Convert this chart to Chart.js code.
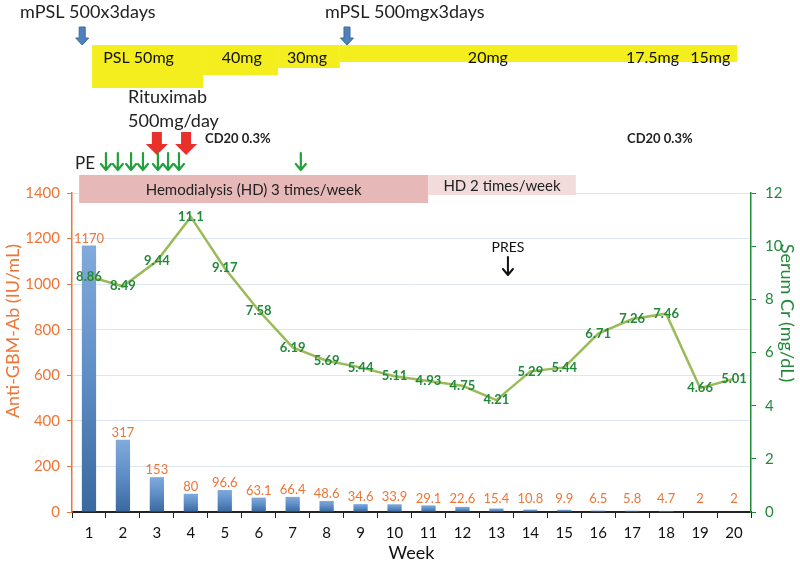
<!DOCTYPE html>
<html>
<head>
<meta charset="utf-8">
<script src="https://cdn.jsdelivr.net/npm/chart.js@4.4.0/dist/chart.umd.min.js"></script>
<style>
  html, body { margin: 0; padding: 0; background: #fff; }
</style>
</head>
<body>
<canvas id="chart" width="800" height="565"></canvas>
<script>
// chart data
const weeks = ['1','2','3','4','5','6','7','8','9','10','11','12','13','14','15','16','17','18','19','20'];
const antiGbm = [1170, 317, 153, 80, 96.6, 63.1, 66.4, 48.6, 34.6, 33.9, 29.1, 22.6, 15.4, 10.8, 9.9, 6.5, 5.8, 4.7, 2, 2];
const serumCr = [8.86, 8.49, 9.44, 11.1, 9.17, 7.58, 6.19, 5.69, 5.44, 5.11, 4.93, 4.75, 4.21, 5.29, 5.44, 6.71, 7.26, 7.46, 4.66, 5.01];
const antiGbmTicks = [0, 200, 400, 600, 800, 1000, 1200, 1400];
const crTicks = [0, 2, 4, 6, 8, 10, 12];

// treatment timeline (positions in week index, 0 = week 1)
const pslSteps = [
  { label: 'PSL 50mg', from: 0.09, to: 3.36, depth: 43, textAt: 1.46 },
  { label: '40mg', from: 3.36, to: 5.57, depth: 30, textAt: 4.5 },
  { label: '30mg', from: 5.57, to: 7.39, depth: 23, textAt: 6.42 },
  { label: '20mg', from: 7.39, to: 19.09, depth: 17, textAt: 11.75 }
];
const pslExtraLabels = [{ label: '17.5mg', at: 16.6 }, { label: '15mg', at: 18.3 }];
const mpslLabels = [{ label: 'mPSL 500x3days', at: -2.03 }, { label: 'mPSL 500mgx3days', at: 6.95 }];
const mpslArrows = [-0.2, 7.6];
const rituxArrows = [2.0, 2.86];
const cd20Labels = [3.42, 15.85];
const peArrows = [0.5, 0.85, 1.24, 1.59, 2.03, 2.33, 2.65, 6.24];
const hdBands = [
  { label: 'Hemodialysis (HD) 3 times/week', from: -0.29, to: 9.99, depth: 28, color: '#E6B9B8' },
  { label: 'HD 2 times/week', from: 9.99, to: 14.34, depth: 20, color: '#F2DCDB' }
];
const presAt = 12.34;

const FONT = 'Lato, "Open Sans", sans-serif';
const ORANGE = '#EE7536';
const GREEN = '#23893A';
const LINE = '#9BBB59';

function blockArrow(ctx, cx, top, bottom, shaftW, headW, headH, fill, stroke) {
  ctx.beginPath();
  ctx.moveTo(cx - shaftW / 2, top);
  ctx.lineTo(cx + shaftW / 2, top);
  ctx.lineTo(cx + shaftW / 2, bottom - headH);
  ctx.lineTo(cx + headW / 2, bottom - headH);
  ctx.lineTo(cx, bottom);
  ctx.lineTo(cx - headW / 2, bottom - headH);
  ctx.lineTo(cx - shaftW / 2, bottom - headH);
  ctx.closePath();
  ctx.fillStyle = fill;
  ctx.fill();
  if (stroke) { ctx.strokeStyle = stroke; ctx.lineWidth = 1; ctx.stroke(); }
}

function thinArrow(ctx, cx, top, bottom, color, w) {
  ctx.strokeStyle = color;
  ctx.lineWidth = w;
  ctx.lineCap = 'round';
  ctx.lineJoin = 'round';
  ctx.beginPath();
  ctx.moveTo(cx, top);
  ctx.lineTo(cx, bottom);
  ctx.moveTo(cx - 5, bottom - 6);
  ctx.lineTo(cx, bottom);
  ctx.lineTo(cx + 5, bottom - 6);
  ctx.stroke();
}

const annotations = {
  id: 'annotations',
  afterDraw(chart) {
    const ctx = chart.ctx;
    const px = v => chart.scales.x.getPixelForValue(v);
    ctx.save();

    // mPSL pulses
    ctx.fillStyle = '#222';
    ctx.font = '18px ' + FONT;
    ctx.textAlign = 'left';
    ctx.textBaseline = 'middle';
    mpslLabels.forEach(m => ctx.fillText(m.label, px(m.at), 12));
    mpslArrows.forEach(a => blockArrow(ctx, px(a), 27, 45, 6, 13, 7, '#4F81BD', '#3A6A9E'));

    // PSL taper band
    ctx.fillStyle = '#F4EE1E';
    pslSteps.forEach(s => ctx.fillRect(px(s.from), 45, px(s.to) - px(s.from), s.depth));
    ctx.fillStyle = '#111';
    ctx.font = '16px ' + FONT;
    ctx.textAlign = 'center';
    pslSteps.forEach(s => ctx.fillText(s.label, px(s.textAt), 58));
    pslExtraLabels.forEach(s => ctx.fillText(s.label, px(s.at), 58));

    // rituximab
    ctx.textAlign = 'left';
    ctx.font = '18px ' + FONT;
    ctx.fillStyle = '#222';
    ctx.fillText('Rituximab', px(1.15), 97);
    ctx.fillText('500mg/day', px(1.15), 121);
    rituxArrows.forEach(a => blockArrow(ctx, px(a), 132, 155, 10, 22, 11, '#E8312A'));

    ctx.fillStyle = '#222';
    ctx.font = 'bold 13px ' + FONT;
    cd20Labels.forEach(a => ctx.fillText('CD20 0.3%', px(a), 139));

    // plasma exchange
    ctx.font = '17px ' + FONT;
    ctx.fillText('PE', px(-0.41), 164);
    peArrows.forEach(a => thinArrow(ctx, px(a), 153, 170, '#22A03C', 2.2));

    // hemodialysis bands
    ctx.textAlign = 'center';
    ctx.font = '15px ' + FONT;
    hdBands.forEach(b => {
      ctx.fillStyle = b.color;
      ctx.fillRect(px(b.from), 175, px(b.to) - px(b.from), b.depth);
      ctx.fillStyle = '#222';
      ctx.fillText(b.label, (px(b.from) + px(b.to)) / 2, 175 + b.depth / 2 + 1);
    });

    // PRES
    ctx.fillStyle = '#111';
    ctx.font = '14px ' + FONT;
    ctx.fillText('PRES', px(presAt), 247);
    thinArrow(ctx, px(presAt), 257, 275, '#111', 2);

    // axis titles
    ctx.fillStyle = ORANGE;
    ctx.font = '18px ' + FONT;
    ctx.save();
    ctx.translate(13, 331);
    ctx.rotate(-Math.PI / 2);
    ctx.fillText('Anti-GBM-Ab (IU/mL)', 0, 0);
    ctx.restore();
    ctx.fillStyle = GREEN;
    ctx.save();
    ctx.translate(787, 313);
    ctx.rotate(Math.PI / 2);
    ctx.fillText('Serum Cr (mg/dL)', 0, 0);
    ctx.restore();
    ctx.fillStyle = '#111';
    ctx.fillText('Week', (chart.chartArea.left + chart.chartArea.right) / 2, 553);

    ctx.restore();
  }
};

const valueLabels = {
  id: 'valueLabels',
  afterDatasetsDraw(chart) {
    const ctx = chart.ctx;
    const yScale = chart.scales.y;
    ctx.save();
    ctx.textAlign = 'center';
    ctx.textBaseline = 'middle';
    ctx.font = '13px ' + FONT;
    ctx.fillStyle = ORANGE;
    chart.getDatasetMeta(0).data.forEach((el, i) => {
      const top = Math.min(el.y, yScale.getPixelForValue(25));
      ctx.fillText(String(antiGbm[i]), el.x, top - 7);
    });
    ctx.font = 'bold 13px ' + FONT;
    ctx.fillStyle = GREEN;
    chart.getDatasetMeta(1).data.forEach((el, i) => {
      ctx.fillText(String(serumCr[i]), el.x, el.y);
    });
    ctx.restore();
  }
};

new Chart(document.getElementById('chart'), {
  data: {
    labels: weeks,
    datasets: [
      {
        type: 'bar',
        data: antiGbm,
        yAxisID: 'y',
        order: 2,
        barPercentage: 0.42,
        categoryPercentage: 1,
        backgroundColor: (c) => {
          const chart = c.chart;
          if (!chart.chartArea || c.raw == null) return '#4F81BD';
          const top = chart.scales.y.getPixelForValue(c.raw);
          const bottom = chart.chartArea.bottom;
          if (bottom - top < 1) return '#3B6AA0';
          const g = chart.ctx.createLinearGradient(0, top, 0, bottom);
          g.addColorStop(0, '#82AADB');
          g.addColorStop(0.5, '#5D8DC6');
          g.addColorStop(1, '#3A68A0');
          return g;
        }
      },
      {
        type: 'line',
        data: serumCr,
        yAxisID: 'y1',
        order: 1,
        borderColor: LINE,
        borderWidth: 2.5,
        pointRadius: 0,
        tension: 0
      }
    ]
  },
  options: {
    responsive: false,
    animation: false,
    devicePixelRatio: 1,
    layout: { padding: { top: 193, left: 0, right: 0, bottom: 0 } },
    plugins: { legend: { display: false }, tooltip: { enabled: false } },
    scales: {
      x: {
        afterFit: s => { s.height = 53; },
        border: { color: '#222', width: 2 },
        grid: { drawOnChartArea: false, tickLength: 6, color: '#222', offset: true },
        ticks: { color: '#111', font: { family: FONT, size: 15 }, padding: 6 }
      },
      y: {
        position: 'left',
        min: 0,
        max: 1400,
        afterFit: s => { s.width = 72; },
        afterBuildTicks: s => { s.ticks = antiGbmTicks.map(v => ({ value: v })); },
        border: { color: ORANGE, width: 1.5 },
        grid: { color: '#DCE6F2', tickColor: ORANGE, tickLength: 5 },
        ticks: { color: ORANGE, font: { family: FONT, size: 15 }, padding: 7, callback: v => String(v) }
      },
      y1: {
        position: 'right',
        min: 0,
        max: 12,
        afterFit: s => { s.width = 49; },
        afterBuildTicks: s => { s.ticks = crTicks.map(v => ({ value: v })); },
        border: { color: GREEN, width: 1.5 },
        grid: { drawOnChartArea: false, color: GREEN, tickLength: 5 },
        ticks: { color: GREEN, font: { family: FONT, size: 15 }, padding: 9, callback: v => String(v) }
      }
    }
  },
  plugins: [valueLabels, annotations]
});
</script>
</body>
</html>
